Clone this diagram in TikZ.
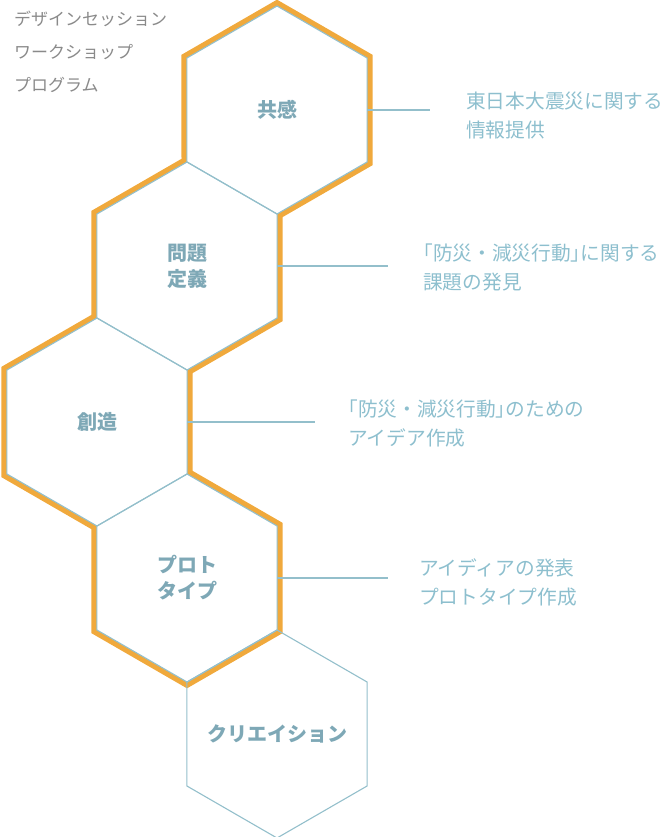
\documentclass[tikz,border=0pt]{standalone}
\usepackage{fontspec}
\usetikzlibrary{calc,backgrounds}
\newfontfamily\cjk{Noto Sans CJK JP}
\newfontfamily\cjkhalt[RawFeature=+halt]{Noto Sans CJK JP}
\definecolor{hexline}{HTML}{93BFCB}
\definecolor{hexorange}{HTML}{F0A93C}
\definecolor{hextext}{HTML}{7EA8B6}
\definecolor{sidetext}{HTML}{8DBFCE}
\definecolor{titlegray}{HTML}{8A8A8A}
\def\hexr{104}
\tikzset{
  celltext/.style={inner sep=0pt, text=hextext, align=center,
    font=\cjk\bfseries\fontsize{20}{26}\selectfont},
  hexedge/.style={draw=hexline, line width=1.1pt},
  outline/.style={draw=hexorange, line width=11pt, line join=miter},
  sidelabel/.style={anchor=west, align=left, text=sidetext, inner sep=0pt,
    font=\cjk\fontsize{19.7}{29}\selectfont},
  leader/.style={draw=hexline, line width=1.1pt}
}
\begin{document}
\begin{tikzpicture}[x=1pt,y=-1pt]
\useasboundingbox (0,0) rectangle (668,837);
% title
\node[anchor=north west, align=left, inner sep=0pt, text=titlegray,
  font=\cjk\fontsize{17}{33}\selectfont] (title) at (14,11)
  {デザインセッション\\ワークショップ\\プログラム};
% cells
\node[celltext] (empathy) at (277,110) {共感};
\node[celltext] (definition) at (187,266) {問題\\定義};
\node[celltext] (ideation) at (97,422) {創造};
\node[celltext] (prototype) at (187,578) {プロト\\タイプ};
\node[celltext] (creation) at (277,734) {クリエイション};
\foreach \c in {empathy,definition,ideation,prototype,creation}
  \foreach \k/\a in {t/-90,ur/-30,lr/30,b/90,ll/150,ul/210}
    \coordinate (\c-\k) at ($(\c)+(\a:\hexr)$);
% orange outline
\begin{scope}[on background layer]
\draw[outline] (empathy-t) -- (empathy-ur) -- (empathy-lr) -- (empathy-b)
  -- (definition-lr) -- (definition-b) -- (ideation-lr)
  -- (prototype-ur) -- (prototype-lr) -- (prototype-b) -- (prototype-ll)
  -- (prototype-ul) -- (ideation-ll) -- (ideation-ul) -- (ideation-t)
  -- (definition-ul) -- (definition-t) -- (empathy-ul) -- cycle;
\foreach \c in {empathy,definition,ideation,prototype}
  \fill[white] (\c-t) -- (\c-ur) -- (\c-lr) -- (\c-b) -- (\c-ll) -- (\c-ul) -- cycle;
\end{scope}
\foreach \c in {empathy,definition,ideation,prototype,creation}
  \draw[hexedge] (\c-t) -- (\c-ur) -- (\c-lr) -- (\c-b) -- (\c-ll) -- (\c-ul) -- cycle;
% leaders and notes
\coordinate (l1) at (430,110);
\coordinate (l2) at (388,266);
\coordinate (l3) at (315,422);
\coordinate (l4) at (388,578);
\draw[leader] (empathy-ur |- empathy) -- (l1);
\draw[leader] (definition-ur |- definition) -- (l2);
\draw[leader] (ideation-ur |- ideation) -- (l3);
\draw[leader] (prototype-ur |- prototype) -- (l4);
\node[sidelabel] (note1) at (466,116) {東日本大震災に関する\\情報提供};
\node[sidelabel] (note2) at (423,268) {{\cjkhalt 「}防災・減災行動{\cjkhalt 」}に関する\\課題の発見};
\node[sidelabel] (note3) at (348,424) {{\cjkhalt 「}防災・減災行動{\cjkhalt 」}のための\\アイデア作成};
\node[sidelabel] (note4) at (419,582) {アイディアの発表\\プロトタイプ作成};
\end{tikzpicture}
\end{document}
